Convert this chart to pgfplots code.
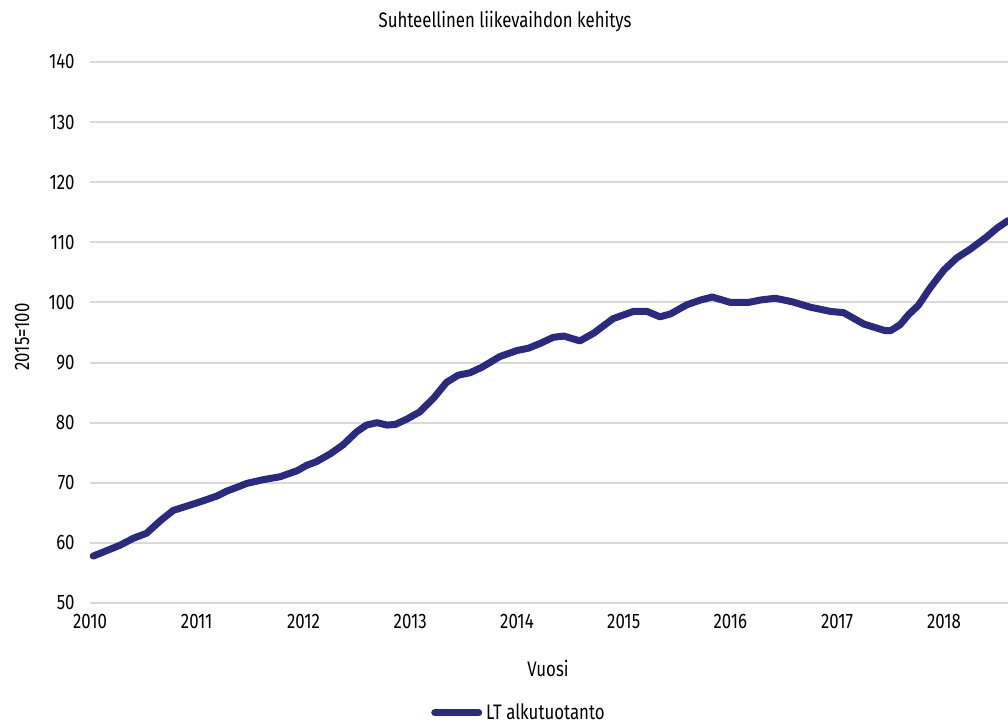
\documentclass[border=0pt]{standalone}
\usepackage{pgfplots}
\pgfplotsset{compat=1.18}
\usepackage{fontspec}
\setmainfont{Fira Sans}[FakeStretch=0.8]
\definecolor{navy}{RGB}{43,42,124}
\definecolor{gridgray}{RGB}{217,217,217}

\begin{document}
\fontsize{10.5}{12}\selectfont
\begin{tikzpicture}
\begin{axis}[
    at={(0,0)}, anchor=south west,
    scale only axis,
    width=459pt, height=270.5pt,
    xmin=2010, xmax=2018.6,
    ymin=50, ymax=140,
    xtick={2010,2011,...,2018},
    ytick={50,60,...,140},
    /pgf/number format/1000 sep={},
    /pgf/number format/assume math mode=true,
    axis line style={draw=none},
    major tick length=0pt,
    ymajorgrids,
    grid style={gridgray, line width=1pt},
    ticklabel style={font=\fontsize{10.5}{12}\selectfont},
    yticklabel style={xshift=-4pt},
    xticklabel style={yshift=-2pt},
    legend style={at={(0.4684,-0.2033)}, anchor=center, draw=none,
        font=\fontsize{10.5}{12}\selectfont, inner sep=0pt},
    legend image code/.code={\draw[#1, line cap=round] (0pt,0pt) -- (22pt,0pt);},
]
\addplot[navy, line width=3.5pt, line join=round, line cap=round] coordinates {
(2010.03,57.8) (2010.28,59.6) (2010.41,60.8) (2010.53,61.6) (2010.66,63.7)
(2010.78,65.4) (2010.94,66.3) (2011.06,67.0) (2011.19,67.8) (2011.28,68.6)
(2011.37,69.2) (2011.47,69.9) (2011.62,70.5) (2011.78,71.0) (2011.94,72.0)
(2012.03,72.9) (2012.12,73.5) (2012.25,74.8) (2012.37,76.3) (2012.50,78.5)
(2012.59,79.6) (2012.69,80.0) (2012.78,79.6) (2012.86,79.7) (2012.97,80.6)
(2013.09,81.8) (2013.22,84.1) (2013.34,86.7) (2013.45,87.9) (2013.56,88.3)
(2013.67,89.2) (2013.84,91.0) (2014.00,92.0) (2014.11,92.4) (2014.22,93.2)
(2014.34,94.2) (2014.44,94.4) (2014.59,93.6) (2014.72,94.9) (2014.90,97.3)
(2015.09,98.5) (2015.22,98.5) (2015.34,97.6) (2015.44,98.1) (2015.59,99.6)
(2015.72,100.4) (2015.83,100.9) (2016.00,100.0) (2016.17,100.0) (2016.28,100.4)
(2016.42,100.7) (2016.58,100.1) (2016.75,99.2) (2016.94,98.5) (2017.06,98.3)
(2017.25,96.4) (2017.45,95.3) (2017.50,95.3) (2017.59,96.3) (2017.67,98.0)
(2017.76,99.5) (2017.87,102.4) (2018.00,105.4) (2018.12,107.4) (2018.25,108.9)
(2018.40,110.9) (2018.50,112.4) (2018.60,113.6)
};
\addlegendentry{LT alkutuotanto}
\end{axis}
\node[anchor=center] at (207.5pt,290.5pt) {Suhteellinen liikevaihdon kehitys};
\node[anchor=center] at (229pt,-32.5pt) {Vuosi};
\node[anchor=center, rotate=90] at (-34pt,133pt) {2015=100};
\pgfresetboundingbox
\path[use as bounding box] (-45pt,-62pt) rectangle (459pt,301.5pt);
\end{tikzpicture}
\end{document}
